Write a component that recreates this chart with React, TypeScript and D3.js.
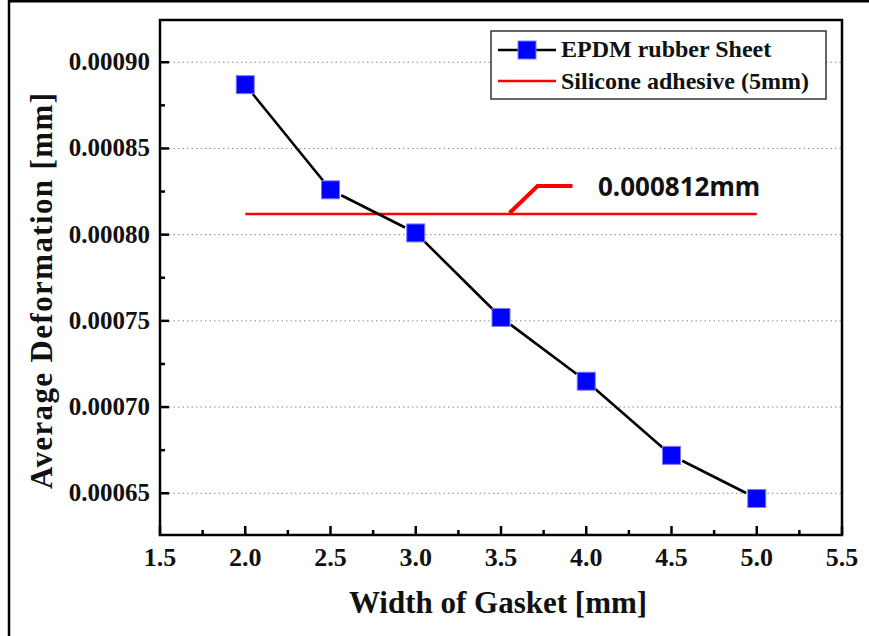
import React from "react";
import * as d3 from "d3";

const widths = [2.0, 2.5, 3.0, 3.5, 4.0, 4.5, 5.0];
const epdm = [0.000887, 0.000826, 0.000801, 0.000752, 0.000715, 0.000672, 0.000647];
const siliconeValue = 0.000812;
const siliconeRange = [2.0, 5.0];
const xTicks = [1.5, 2.0, 2.5, 3.0, 3.5, 4.0, 4.5, 5.0, 5.5];
const yTicks = [0.00065, 0.0007, 0.00075, 0.0008, 0.00085, 0.0009];
const yMinor = [0.000675, 0.000725, 0.000775, 0.000825, 0.000875];
const xMinor = [1.75, 2.25, 2.75, 3.25, 3.75, 4.25, 4.75, 5.25];
const seriesNames = ["EPDM rubber Sheet", "Silicone adhesive (5mm)"];
const annotationText = "0.000812mm";

const W = 869;
const H = 636;
const L = 160, R = 842, T = 20, B = 535;

export default function App() {
  const x = d3.scaleLinear().domain([1.5, 5.5]).range([L, R]);
  const y = d3.scaleLinear().domain([0.0006258, 0.0009245]).range([B, T]);
  const serif = "'Liberation Serif', 'Times New Roman', serif";

  const segs: { x1: number; y1: number; x2: number; y2: number }[] = [];
  const gap = 12;
  for (let i = 0; i < widths.length - 1; i++) {
    const ax = x(widths[i]), ay = y(epdm[i]);
    const bx = x(widths[i + 1]), by = y(epdm[i + 1]);
    const dx = bx - ax, dy = by - ay;
    const len = Math.hypot(dx, dy);
    const ux = dx / len, uy = dy / len;
    segs.push({ x1: ax + ux * gap, y1: ay + uy * gap, x2: bx - ux * gap, y2: by - uy * gap });
  }

  const ry = y(siliconeValue);
  const ax0 = x(3.55);
  const annPath = d3.line()([
    [ax0, ry - 1],
    [ax0 + 28, ry - 28],
    [ax0 + 63, ry - 28],
  ]) as string;

  const ms = 18;

  return (
    <svg width={W} height={H} style={{ position: "absolute", left: 0, top: 0, background: "#fff" }}>
      <rect x={0} y={0} width={W} height={H} fill="#fff" />
      {/* outer frame: top and left */}
      <line x1={9} y1={0} x2={9} y2={H} stroke="#000" strokeWidth={2.5} />
      <line x1={9} y1={1} x2={W} y2={1} stroke="#000" strokeWidth={3} />

      {/* grid */}
      {yTicks.map((t) => (
        <line key={"g" + t} x1={L} x2={R} y1={y(t)} y2={y(t)} stroke="#8a8a8a" strokeWidth={1} strokeDasharray="1.5,3" />
      ))}

      {/* silicone line */}
      <line x1={x(siliconeRange[0])} x2={x(siliconeRange[1])} y1={ry} y2={ry} stroke="#ff0000" strokeWidth={2.5} />
      <path d={annPath} fill="none" stroke="#ff0000" strokeWidth={4} />
      <text x={598} y={ry - 18} fontFamily="'Noto Sans', 'Open Sans', sans-serif" fontWeight="bold" fontSize={26} fill="#111">
        {annotationText}
      </text>

      {/* EPDM line */}
      {segs.map((s, i) => (
        <line key={"s" + i} x1={s.x1} y1={s.y1} x2={s.x2} y2={s.y2} stroke="#000" strokeWidth={2.6} />
      ))}
      {widths.map((w, i) => (
        <rect key={"m" + i} x={x(w) - ms / 2} y={y(epdm[i]) - ms / 2} width={ms} height={ms} fill="#0000ff" stroke="#7a7aff" strokeWidth={1} />
      ))}

      {/* axes frame */}
      <rect x={L} y={T} width={R - L} height={B - T} fill="none" stroke="#000" strokeWidth={2.5} />
      {xTicks.map((t) => (
        <line key={"xt" + t} x1={x(t)} x2={x(t)} y1={B} y2={B - 9} stroke="#000" strokeWidth={2.5} />
      ))}
      {xMinor.map((t) => (
        <line key={"xm" + t} x1={x(t)} x2={x(t)} y1={B} y2={B - 5} stroke="#000" strokeWidth={2.5} />
      ))}
      {yTicks.map((t) => (
        <line key={"yt" + t} x1={L} x2={L + 9} y1={y(t)} y2={y(t)} stroke="#000" strokeWidth={2.5} />
      ))}
      {yMinor.map((t) => (
        <line key={"ym" + t} x1={L} x2={L + 5} y1={y(t)} y2={y(t)} stroke="#000" strokeWidth={2.5} />
      ))}

      {/* tick labels */}
      {xTicks.map((t) => (
        <text key={"xl" + t} x={x(t)} y={566} textAnchor="middle" fontFamily={serif} fontWeight="bold" fontSize={26} fill="#111">
          {d3.format(".1f")(t)}
        </text>
      ))}
      {yTicks.map((t) => (
        <text key={"yl" + t} x={150} y={y(t) + 8} textAnchor="end" fontFamily={serif} fontWeight="bold" fontSize={25} fill="#111">
          {d3.format(".5f")(t)}
        </text>
      ))}

      {/* axis titles */}
      <text x={498} y={613} textAnchor="middle" fontFamily={serif} fontWeight="bold" fontSize={31} fill="#111">
        Width of Gasket [mm]
      </text>
      <text transform={`translate(52, 291) rotate(-90)`} textAnchor="middle" fontFamily={serif} fontWeight="bold" fontSize={31} fill="#111" textLength={396} lengthAdjust="spacing">
        Average Deformation [mm]
      </text>

      {/* legend */}
      <rect x={491} y={31} width={335} height={68} fill="#fff" stroke="#333" strokeWidth={1.5} />
      <line x1={498} x2={556} y1={50} y2={50} stroke="#000" strokeWidth={2.6} />
      <rect x={527 - ms / 2} y={50 - ms / 2} width={ms} height={ms} fill="#0000ff" stroke="#7a7aff" strokeWidth={1} />
      <text x={561} y={57} fontFamily={serif} fontWeight="bold" fontSize={24} fill="#111">{seriesNames[0]}</text>
      <line x1={498} x2={556} y1={81} y2={81} stroke="#ff0000" strokeWidth={2.6} />
      <text x={561} y={89} fontFamily={serif} fontWeight="bold" fontSize={24} fill="#111">{seriesNames[1]}</text>
    </svg>
  );
}
